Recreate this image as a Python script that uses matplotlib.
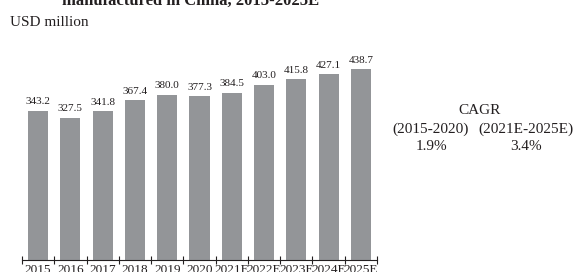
import matplotlib.pyplot as plt
import numpy as np

plt.rcParams['font.family'] = ['Liberation Serif', 'DejaVu Serif']

years = ['2015', '2016', '2017', '2018', '2019', '2020',
         '2021E', '2022E', '2023E', '2024E', '2025E']
values = [343.2, 327.5, 341.8, 367.4, 380.0, 377.3,
          384.5, 403.0, 415.8, 427.1, 438.7]
cagr_periods = ['(2015-2020)', '(2021E-2025E)']
cagr_values = ['1.9%', '3.4%']

W, H = 574, 272
fig = plt.figure(figsize=(W / 100, H / 100), dpi=100)

# axes placed in pixel terms
left, right, base, top = 22, 377, 260, 42.5
ax = fig.add_axes([left / W, 1 - base / H, (right - left) / W, (base - top) / H])

x = np.arange(len(values))
ax.bar(x, values, width=0.62, color='#939598')
for xi, v in zip(x, values):
    ax.text(xi, v + 10, f'{v:.1f}', ha='center', va='bottom', fontsize=8,
            color='#231f20')

ax.set_xlim(-0.5, len(values) - 0.5)
ax.set_ylim(0, 500)
for s in ['top', 'right', 'left']:
    ax.spines[s].set_visible(False)
ax.spines['bottom'].set_color('#231f20')
ax.spines['bottom'].set_linewidth(0.8)
ax.set_yticks([])

ax.set_xticks(np.arange(-0.5, len(values)), labels=[])
ax.tick_params(axis='x', which='major', direction='inout', length=6,
               width=0.8, color='#231f20')
ax.set_xticks(x, labels=years, minor=True)
ax.tick_params(axis='x', which='minor', length=0, pad=3, labelsize=9.5,
               labelcolor='#231f20')

fig.text(191 / W, 1 - 4.5 / H, 'manufactured in China, 2015-2025E',
         ha='center', va='baseline', fontsize=12, fontweight='bold',
         color='#231f20')
fig.text(10 / W, 1 - 23 / H, 'USD million', ha='left', va='center',
         fontsize=11, color='#231f20')

fig.text(480 / W, 1 - 111 / H, 'CAGR', ha='center', va='center',
         fontsize=11, color='#231f20')
for cx, period, val in zip([431, 526], cagr_periods, cagr_values):
    fig.text(cx / W, 1 - 129 / H, period, ha='center', va='center',
             fontsize=11, color='#231f20')
    fig.text(cx / W, 1 - 147 / H, val, ha='center', va='center',
             fontsize=11, color='#231f20')

fig.savefig('out.png', dpi=100)
